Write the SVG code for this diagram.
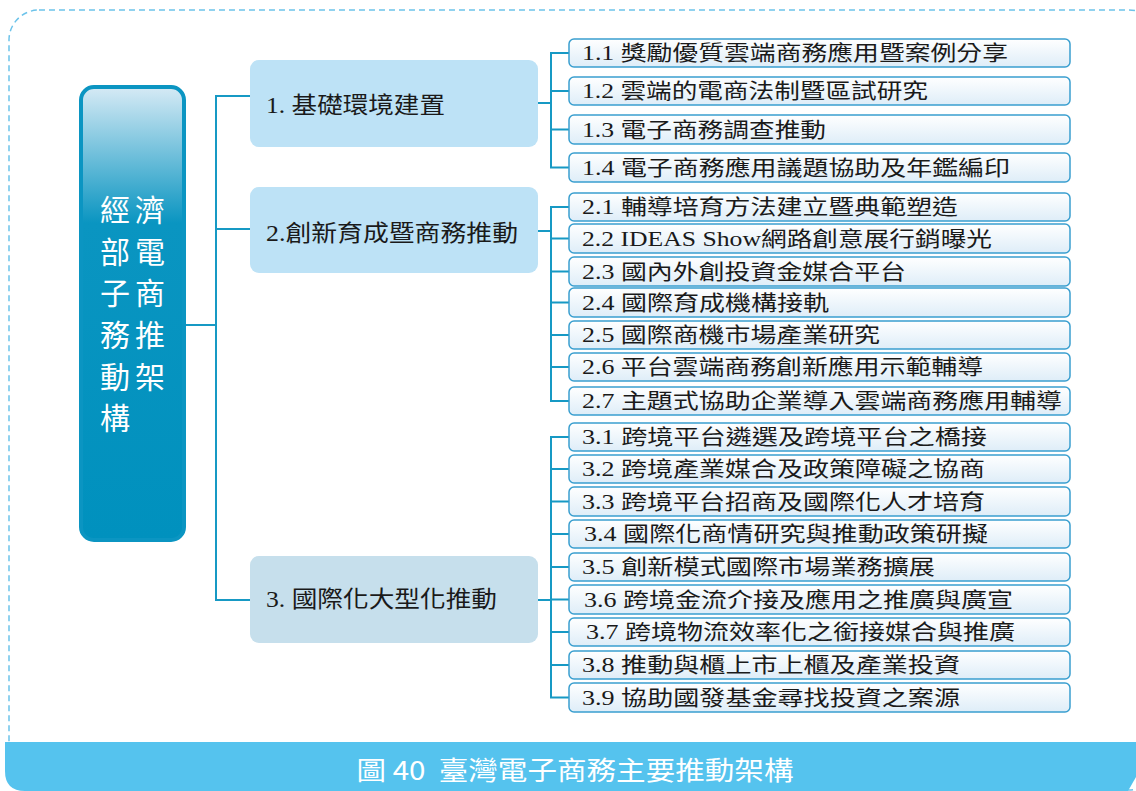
<svg xmlns="http://www.w3.org/2000/svg" width="1136" height="791" viewBox="0 0 1136 791">
<defs>
<linearGradient id="gMain" x1="0" y1="0" x2="0" y2="1">
<stop offset="0" stop-color="#d6eaf5"/>
<stop offset="0.3" stop-color="#0a95c1"/>
<stop offset="1" stop-color="#0091be"/>
</linearGradient>
<linearGradient id="gLeaf" x1="0" y1="0" x2="0" y2="1">
<stop offset="0" stop-color="#ffffff"/>
<stop offset="1" stop-color="#deedf8"/>
</linearGradient>
<style>
.leaf rect{fill:url(#gLeaf);stroke:#3a9fcf;stroke-width:1.5}
.leaf text{font-family:"Liberation Serif","Noto Sans CJK TC",serif;font-size:21px;fill:#1a1a1a}
.lv1 rect{stroke:none}
.lv1 text{font-family:"Liberation Serif","Noto Sans CJK TC",serif;font-size:23px;fill:#1a1a1a}
.conn{fill:none;stroke:#1799c4;stroke-width:2}
.root text{font-family:"Liberation Serif","Noto Sans CJK TC",serif;font-size:30px;fill:#ffffff}
</style>
</defs>
<rect x="9" y="10" width="1150" height="780" rx="30" fill="none" stroke="#6cc3ea" stroke-width="1.5" stroke-dasharray="6 4"/>
<path d="M5 742 H1136 V777 L1128 791 H25 Q5 791 5 771 Z" fill="#55c3ee"/>
<text x="575" y="780" text-anchor="middle" font-family="'Noto Sans CJK TC','Noto Sans',sans-serif" font-size="26" fill="#ffffff" textLength="437" lengthAdjust="spacingAndGlyphs" xml:space="preserve">圖 40  臺灣電子商務主要推動架構</text>

<g id="connectors" class="conn">
<path d="M186 325 H216"/>
<path d="M250 96 H216 V600 H250"/>
<path d="M216 229 H250"/>
<path d="M538 103 H551"/>
<path d="M569 53 H551 V167.5 H569"/>
<path d="M551 91 H569 M551 129.5 H569"/>
<path d="M538 231 H551"/>
<path d="M569 207 H551 V401 H569"/>
<path d="M551 238.5 H569 M551 271.5 H569 M551 302.5 H569 M551 335 H569 M551 367 H569"/>
<path d="M538 600 H551"/>
<path d="M569 437 H551 V697.5 H569"/>
<path d="M551 469 H569 M551 501.5 H569 M551 534 H569 M551 567 H569 M551 599.5 H569 M551 632 H569 M551 665 H569"/>
</g>

<g id="root" class="root">
<rect x="81" y="87" width="103" height="453" rx="13" fill="url(#gMain)" stroke="#0b95c2" stroke-width="4"/>
<text x="100 135" y="221">經濟</text>
<text x="100 135" y="263">部電</text>
<text x="100 135" y="304">子商</text>
<text x="100 135" y="346">務推</text>
<text x="100 135" y="388">動架</text>
<text x="100" y="429">構</text>
</g>

<g id="n1" class="lv1"><rect x="250" y="60" width="288" height="87" rx="9" fill="#bde2f6"/><text x="266" y="113" textLength="179" lengthAdjust="spacingAndGlyphs">1. 基礎環境建置</text></g>
<g id="n2" class="lv1"><rect x="250" y="187" width="288" height="86" rx="9" fill="#bde2f6"/><text x="266" y="241" textLength="252" lengthAdjust="spacingAndGlyphs">2.創新育成暨商務推動</text></g>
<g id="n3" class="lv1"><rect x="250" y="556" width="288" height="87" rx="9" fill="#c6dfec"/><text x="266" y="607" textLength="231" lengthAdjust="spacingAndGlyphs">3. 國際化大型化推動</text></g>

<g id="n1-1" class="leaf"><rect x="569" y="39" width="501" height="28" rx="5"/><text x="582" y="60" textLength="426" lengthAdjust="spacingAndGlyphs">1.1 獎勵優質雲端商務應用暨案例分享</text></g>
<g id="n1-2" class="leaf"><rect x="569" y="77" width="501" height="28" rx="5"/><text x="582" y="98" textLength="346" lengthAdjust="spacingAndGlyphs">1.2 雲端的電商法制暨區試研究</text></g>
<g id="n1-3" class="leaf"><rect x="569" y="115" width="501" height="29" rx="5"/><text x="582" y="137" textLength="244" lengthAdjust="spacingAndGlyphs">1.3 電子商務調查推動</text></g>
<g id="n1-4" class="leaf"><rect x="569" y="153" width="501" height="29" rx="5"/><text x="582" y="175" textLength="428" lengthAdjust="spacingAndGlyphs">1.4 電子商務應用議題協助及年鑑編印</text></g>

<g id="n2-1" class="leaf"><rect x="569" y="193" width="501" height="28" rx="5"/><text x="582" y="214" textLength="376" lengthAdjust="spacingAndGlyphs">2.1 輔導培育方法建立暨典範塑造</text></g>
<g id="n2-2" class="leaf"><rect x="569" y="224" width="501" height="29" rx="5"/><text x="582" y="246" textLength="410" lengthAdjust="spacingAndGlyphs">2.2 IDEAS Show網路創意展行銷曝光</text></g>
<g id="n2-3" class="leaf"><rect x="569" y="257" width="501" height="29" rx="5"/><text x="582" y="279" textLength="324" lengthAdjust="spacingAndGlyphs">2.3 國內外創投資金媒合平台</text></g>
<g id="n2-4" class="leaf"><rect x="569" y="288" width="501" height="29" rx="5"/><text x="582" y="310" textLength="247" lengthAdjust="spacingAndGlyphs">2.4 國際育成機構接軌</text></g>
<g id="n2-5" class="leaf"><rect x="569" y="321" width="501" height="28" rx="5"/><text x="582" y="342" textLength="298" lengthAdjust="spacingAndGlyphs">2.5 國際商機市場產業研究</text></g>
<g id="n2-6" class="leaf"><rect x="569" y="353" width="501" height="28" rx="5"/><text x="582" y="374" textLength="401" lengthAdjust="spacingAndGlyphs">2.6 平台雲端商務創新應用示範輔導</text></g>
<g id="n2-7" class="leaf"><rect x="569" y="387" width="501" height="28" rx="5"/><text x="582" y="408" textLength="480" lengthAdjust="spacingAndGlyphs">2.7 主題式協助企業導入雲端商務應用輔導</text></g>

<g id="n3-1" class="leaf"><rect x="569" y="423" width="501" height="28" rx="5"/><text x="582" y="444" textLength="405" lengthAdjust="spacingAndGlyphs">3.1 跨境平台遴選及跨境平台之橋接</text></g>
<g id="n3-2" class="leaf"><rect x="569" y="455" width="501" height="28" rx="5"/><text x="582" y="476" textLength="403" lengthAdjust="spacingAndGlyphs">3.2 跨境產業媒合及政策障礙之協商</text></g>
<g id="n3-3" class="leaf"><rect x="569" y="487" width="501" height="29" rx="5"/><text x="582" y="509" textLength="403" lengthAdjust="spacingAndGlyphs">3.3 跨境平台招商及國際化人才培育</text></g>
<g id="n3-4" class="leaf"><rect x="569" y="520" width="501" height="28" rx="5"/><text x="584" y="541" textLength="404" lengthAdjust="spacingAndGlyphs">3.4 國際化商情研究與推動政策研擬</text></g>
<g id="n3-5" class="leaf"><rect x="569" y="553" width="501" height="28" rx="5"/><text x="582" y="574" textLength="353" lengthAdjust="spacingAndGlyphs">3.5 創新模式國際市場業務擴展</text></g>
<g id="n3-6" class="leaf"><rect x="569" y="585" width="501" height="29" rx="5"/><text x="584" y="607" textLength="429" lengthAdjust="spacingAndGlyphs">3.6 跨境金流介接及應用之推廣與廣宣</text></g>
<g id="n3-7" class="leaf"><rect x="569" y="618" width="501" height="28" rx="5"/><text x="586" y="639" textLength="429" lengthAdjust="spacingAndGlyphs">3.7 跨境物流效率化之銜接媒合與推廣</text></g>
<g id="n3-8" class="leaf"><rect x="569" y="651" width="501" height="28" rx="5"/><text x="582" y="672" textLength="378" lengthAdjust="spacingAndGlyphs">3.8 推動與櫃上市上櫃及產業投資</text></g>
<g id="n3-9" class="leaf"><rect x="569" y="683" width="501" height="29" rx="5"/><text x="582" y="705" textLength="378" lengthAdjust="spacingAndGlyphs">3.9 協助國發基金尋找投資之案源</text></g>
</svg>
